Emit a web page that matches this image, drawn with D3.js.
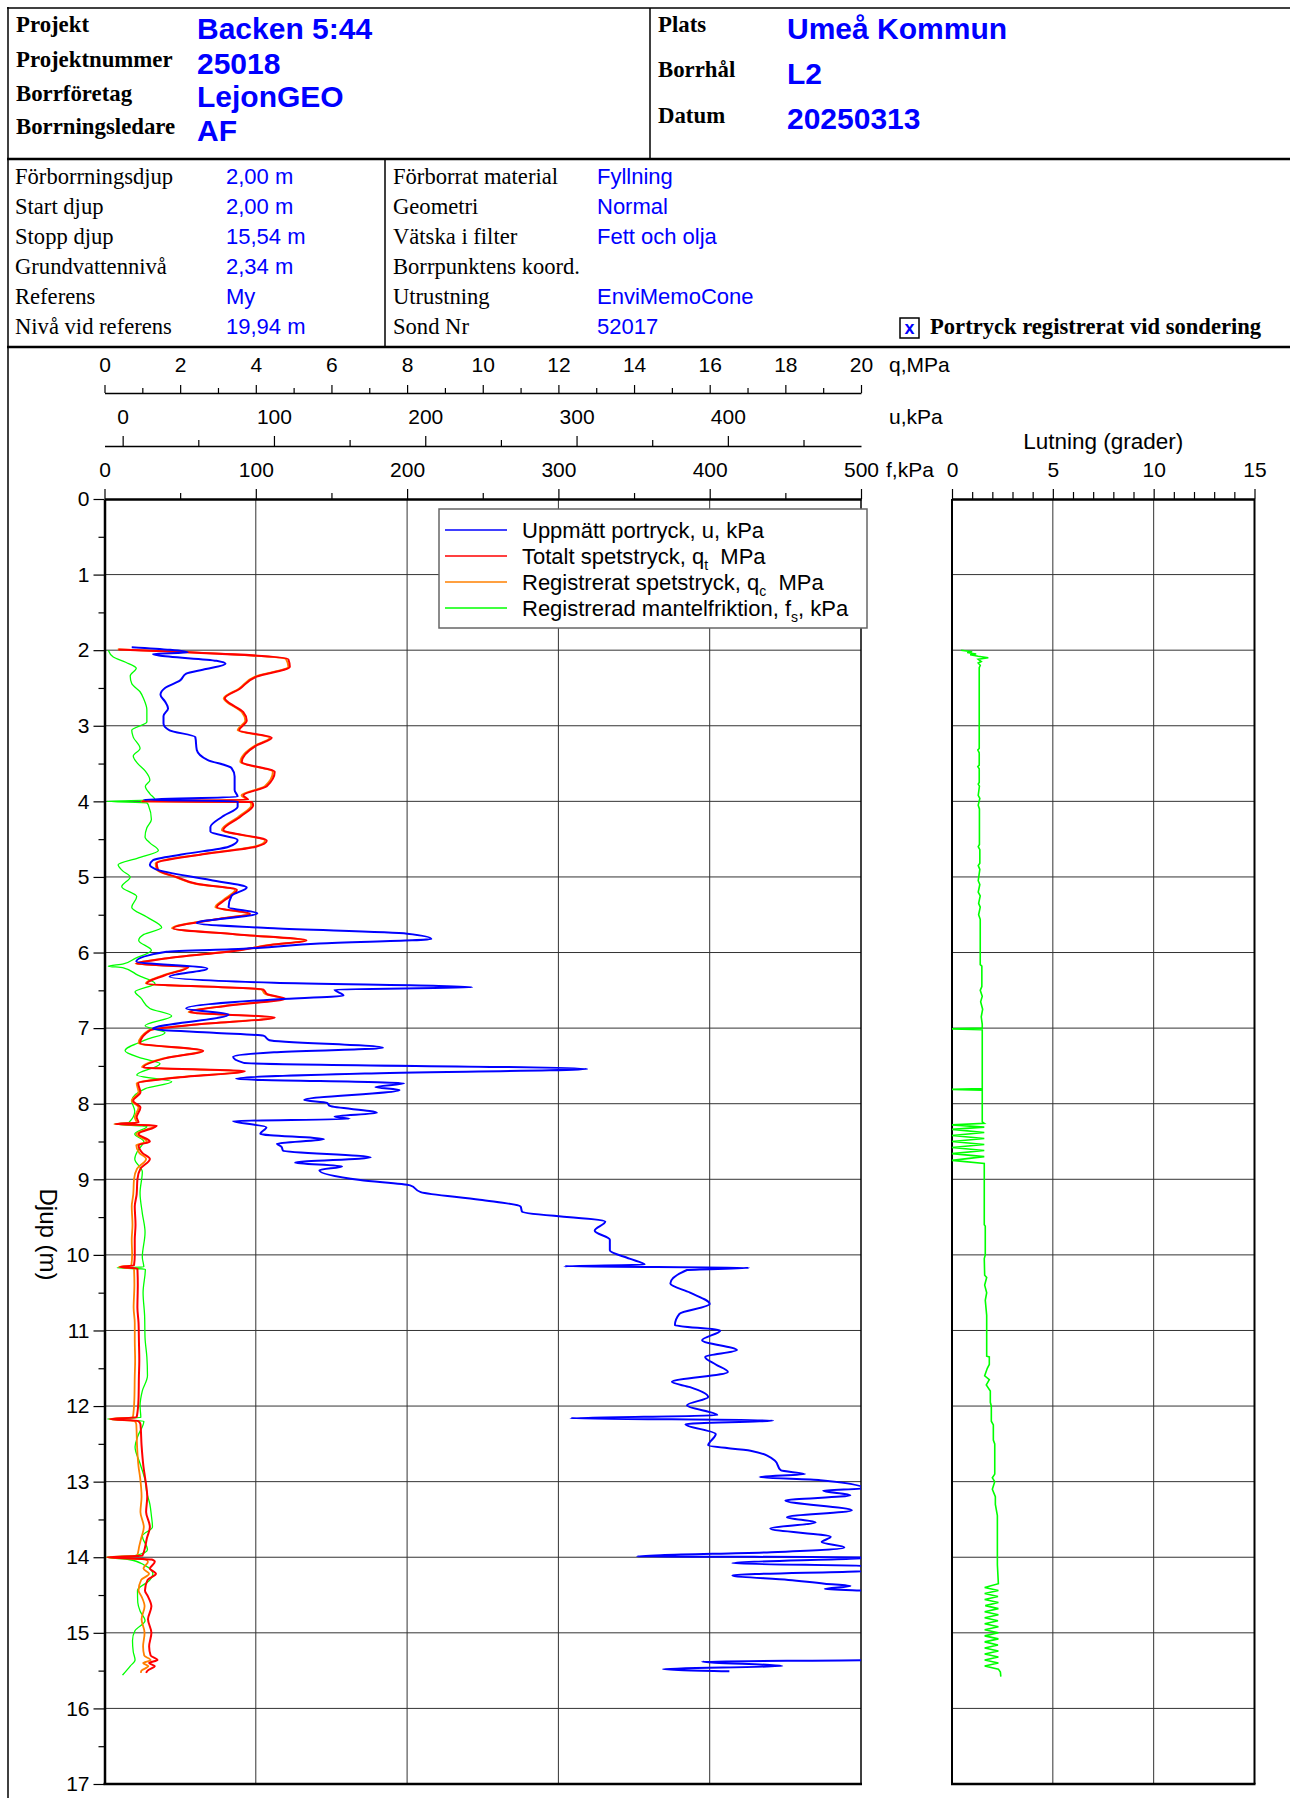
<!DOCTYPE html>
<html><head><meta charset="utf-8">
<script src="https://cdn.jsdelivr.net/npm/d3@7"></script>
<style>body{margin:0;background:#fff}svg{display:block}</style>
</head><body>
<svg id="c" width="1290" height="1798"></svg>
<script>
// ---------------- DATA ----------------
const headerLeftLabels = ["Projekt","Projektnummer","Borrföretag","Borrningsledare"];
const headerLeftValues = ["Backen 5:44","25018","LejonGEO","AF"];
const headerRightLabels = ["Plats","Borrhål","Datum"];
const headerRightValues = ["Umeå Kommun","L2","20250313"];
const infoLeftLabels = ["Förborrningsdjup","Start djup","Stopp djup","Grundvattennivå","Referens","Nivå vid referens"];
const infoLeftValues = ["2,00 m","2,00 m","15,54 m","2,34 m","My","19,94 m"];
const infoMidLabels = ["Förborrat material","Geometri","Vätska i filter","Borrpunktens koord.","Utrustning","Sond Nr"];
const infoMidValues = ["Fyllning","Normal","Fett och olja","","EnviMemoCone","52017"];

const qTicks = [0,2,4,6,8,10,12,14,16,18,20];
const uTicks = [0,100,200,300,400];
const fTicks = [0,100,200,300,400,500];
const lutTicks = [0,5,10,15];
const depthTicks = d3.range(0,18);

// total cone resistance q_t (MPa) and registered q_c (MPa), same depths
const qDepth = [1.99,2.12,2.22,2.35,2.51,2.64,2.68,2.82,2.93,3.06,
 3.16,3.26,3.48,3.61,3.80,3.92,3.98,4.00,4.01,4.05,
 4.20,4.38,4.52,4.60,4.70,4.82,4.91,5.00,5.09,5.17,
 5.30,5.40,5.49,5.55,5.68,5.76,5.84,5.90,5.97,6.08,
 6.15,6.19,6.30,6.41,6.49,6.55,6.61,6.70,6.79,6.86,
 6.95,7.03,7.20,7.30,7.40,7.52,7.57,7.65,7.73,7.85,
 7.96,8.05,8.18,8.25,8.27,8.29,8.40,8.50,8.55,8.65,
 8.73,8.86,9.00,9.20,9.36,9.60,9.80,10.00,10.14,10.16,
 10.18,10.40,10.70,10.90,11.13,11.40,11.60,11.90,12.15,12.17,
 12.20,12.24,12.52,12.80,12.94,13.20,13.40,13.60,13.75,13.85,
 13.98,14.00,14.03,14.06,14.15,14.22,14.30,14.44,14.52,14.65,
 14.82,15.00,15.18,15.30,15.36,15.40,15.44,15.50,15.53];
const qtValue = [0.37,4.86,4.90,4.02,3.58,3.18,3.25,3.67,3.76,3.56,
 4.42,4.02,3.63,4.50,4.29,3.67,3.80,1.00,3.90,3.93,
 3.60,3.14,4.29,4.00,2.60,1.38,1.42,1.90,2.44,3.50,
 3.20,2.97,3.85,3.10,1.82,3.50,5.34,4.40,3.58,1.60,
 0.85,2.22,1.60,1.12,4.20,4.30,4.77,3.30,2.26,4.50,
 2.50,1.20,0.94,2.61,1.60,1.03,3.71,2.00,0.89,0.95,
 0.76,0.95,0.85,0.90,0.28,1.38,0.90,1.20,0.90,1.00,
 1.20,0.95,0.87,0.85,0.80,0.82,0.80,0.80,0.78,0.41,
 0.87,0.88,0.87,0.90,0.91,0.92,0.91,0.90,0.85,0.15,
 0.90,0.95,0.98,1.03,1.07,1.13,1.10,1.20,1.12,1.08,
 1.00,0.08,1.25,1.33,1.20,1.36,1.14,1.07,1.15,1.24,
 1.15,1.24,1.18,1.22,1.40,1.18,1.33,1.14,1.10];
const qcValue = [0.35,4.80,4.86,3.98,3.55,3.15,3.22,3.63,3.72,3.52,
 4.37,3.98,3.59,4.45,4.24,3.62,3.75,0.98,3.85,3.88,
 3.55,3.10,4.24,3.95,2.55,1.35,1.39,1.86,2.40,3.45,
 3.15,2.93,3.80,3.05,1.78,3.45,5.28,4.35,3.53,1.56,
 0.82,2.18,1.56,1.09,4.15,4.25,4.71,3.25,2.22,4.45,
 2.45,1.16,0.90,2.56,1.55,0.99,3.65,1.95,0.85,0.90,
 0.72,0.90,0.80,0.85,0.25,1.32,0.84,1.12,0.84,0.92,
 1.10,0.86,0.78,0.76,0.72,0.74,0.72,0.73,0.71,0.38,
 0.78,0.79,0.77,0.80,0.80,0.81,0.80,0.79,0.75,0.13,
 0.80,0.84,0.86,0.90,0.94,0.98,0.95,1.04,0.97,0.92,
 0.86,0.06,1.08,1.15,1.03,1.18,0.97,0.90,0.98,1.06,
 0.98,1.06,1.02,1.05,1.22,1.02,1.16,0.98,0.96];

// measured pore pressure u (kPa)
const uDepth = [1.96,2.03,2.05,2.07,2.14,2.18,2.25,2.31,2.40,2.50,
 2.59,2.68,2.77,2.87,2.97,3.06,3.15,3.32,3.45,3.56,
 3.67,3.85,3.94,3.98,4.00,4.07,4.20,4.34,4.40,4.51,
 4.60,4.70,4.78,4.84,4.90,5.04,5.14,5.25,5.40,5.48,
 5.61,5.68,5.75,5.82,5.88,5.95,5.99,6.12,6.21,6.32,
 6.40,6.46,6.49,6.57,6.62,6.74,6.82,7.01,7.06,7.10,
 7.16,7.26,7.32,7.38,7.46,7.54,7.60,7.67,7.73,7.78,
 7.82,7.95,7.99,8.03,8.12,8.17,8.20,8.23,8.31,8.40,
 8.47,8.53,8.57,8.62,8.71,8.78,8.83,8.88,9.01,9.08,
 9.17,9.27,9.36,9.43,9.56,9.68,9.80,9.94,10.05,10.13,
 10.15,10.17,10.20,10.38,10.50,10.65,10.78,10.93,11.00,11.13,
 11.26,11.35,11.45,11.55,11.68,11.75,11.88,11.99,12.12,12.16,
 12.19,12.24,12.37,12.52,12.59,12.72,12.85,12.90,12.94,12.98,
 13.09,13.12,13.18,13.25,13.38,13.47,13.54,13.62,13.73,13.80,
 13.87,13.93,13.99,14.00,14.08,14.12,14.17,14.24,14.30,14.35,
 14.38,14.42,14.45,14.60,15.00,15.30,15.36,15.38,15.44,15.48,
 15.51];
const uValue = [6,43,20,24,62,68,55,42,38,28,
 25,28,30,27,27,31,48,49,56,72,
 74,74,76,14,76,76,66,58,58,76,
 70,40,20,18,22,58,82,72,70,89,
 49,100,188,204,130,80,29,9,56,31,
 100,231,140,146,100,42,70,20,60,93,
 97,172,100,73,80,307,160,75,186,167,
 183,120,135,137,168,140,150,73,95,91,
 133,102,105,106,164,114,145,130,157,190,
 197,236,263,264,319,312,322,322,335,345,
 292,414,373,362,375,388,368,365,395,383,
 406,385,392,400,363,375,387,373,393,296,
 430,372,392,387,415,431,435,451,421,461,
 490,463,481,438,482,439,458,428,468,462,
 477,433,340,495,403,500,500,403,440,464,
 481,464,500,530,540,520,495,383,436,357,
 401];

// sleeve friction f_s (kPa)
const fDepth = [2.00,2.09,2.16,2.24,2.34,2.44,2.55,2.65,2.79,2.95,
 3.06,3.15,3.30,3.40,3.50,3.60,3.72,3.80,3.90,3.98,
 4.00,4.02,4.05,4.24,4.35,4.47,4.55,4.65,4.75,4.84,
 4.92,5.00,5.13,5.26,5.40,5.53,5.67,5.76,5.84,5.97,
 6.08,6.15,6.18,6.20,6.30,6.41,6.52,6.60,6.74,6.84,
 6.97,7.06,7.15,7.30,7.40,7.47,7.62,7.71,7.80,7.96,
 8.10,8.25,8.27,8.30,8.40,8.50,8.62,8.73,8.90,9.18,
 9.45,9.70,10.03,10.16,10.17,10.19,10.50,10.80,11.10,11.35,
 11.60,11.80,12.00,12.15,12.17,12.20,12.40,12.54,12.76,12.98,
 13.15,13.30,13.45,13.60,13.72,13.90,13.98,14.00,14.03,14.10,
 14.22,14.30,14.44,14.60,14.71,14.84,14.97,15.10,15.25,15.36,
 15.44,15.56];
const fValue = [2.5,5.8,14,21,17,18,23.5,26,28,28,
 18,19,23.5,19,22,27,30,27,30,33.4,
 1.5,28,29,31,28,26.8,30,35.6,22,9,
 12,17,11.4,21.3,18,28,37.8,26,22.6,31,
 20,12.5,2.5,12,22,33.4,20.2,24,30,44.4,
 26.8,40,28,13.6,25,36.7,21.3,44.4,27,18,
 20,16,6.9,28,20,26,22,20,25,23.5,
 25,26.8,25,26,8.3,27,25.5,26.5,26.8,28,
 28.4,25,23.5,24,2,26,22,20.2,23.5,26.8,
 28,30,31,31.7,25,28.4,20,1.5,16,26,
 32,30,21.8,22,23.5,26.8,20.2,18.5,19,20.2,
 17,11.9];

// inclination (degrees)
const incDepth = [2.00,2.02,2.03,2.05,2.06,2.08,2.10,2.12,2.15,2.17,
 2.20,2.23,3.30,3.32,3.36,3.52,3.54,3.57,3.75,3.77,
 3.80,3.92,3.96,4.05,4.10,4.57,4.60,4.64,4.82,4.85,
 4.90,5.05,5.10,5.20,5.25,5.35,5.40,5.50,5.56,6.16,
 6.18,6.45,6.50,6.58,6.65,6.75,6.85,6.95,7.00,7.01,
 7.02,7.80,7.81,7.82,8.24,8.26,8.28,8.31,8.34,8.38,
 8.42,8.46,8.50,8.54,8.58,8.62,8.66,8.70,8.75,8.79,
 9.60,9.62,10.00,10.05,10.27,10.30,10.40,10.50,10.60,10.80,
 11.34,11.35,11.45,11.50,11.60,11.65,11.72,11.80,11.95,12.00,
 12.20,12.25,12.45,12.50,12.90,12.95,13.00,13.10,13.20,13.30,
 13.45,14.10,14.35,14.40,14.44,14.48,14.52,14.56,14.60,14.64,
 14.68,14.72,14.76,14.80,14.84,14.88,14.92,14.96,15.00,15.04,
 15.08,15.12,15.16,15.20,15.24,15.28,15.32,15.36,15.40,15.44,
 15.48,15.52,15.58];
const incValue = [0.45,1.00,0.75,1.20,0.90,1.30,1.80,1.30,1.45,1.30,
 1.40,1.35,1.35,1.28,1.35,1.35,1.28,1.35,1.35,1.30,
 1.36,1.30,1.38,1.30,1.36,1.36,1.30,1.38,1.38,1.30,
 1.38,1.30,1.38,1.30,1.40,1.32,1.40,1.32,1.40,1.40,
 1.48,1.48,1.40,1.50,1.42,1.52,1.45,1.50,1.50,0.00,
 1.50,1.50,0.00,1.50,1.50,1.60,0.00,1.60,0.00,1.60,
 0.00,1.60,0.00,1.60,0.00,1.60,0.00,1.60,0.00,1.60,
 1.60,1.65,1.65,1.60,1.62,1.72,1.62,1.72,1.65,1.72,
 1.72,1.85,1.85,1.75,1.62,1.85,1.70,1.90,1.90,1.95,
 1.95,2.05,2.05,2.12,2.12,2.00,2.12,2.00,2.15,2.15,
 2.25,2.25,2.30,1.62,2.30,1.62,2.28,1.62,2.30,1.65,
 2.30,1.62,2.30,1.62,2.28,1.62,2.30,1.62,2.30,1.62,
 2.30,1.62,2.28,1.62,2.30,1.62,2.30,1.62,2.30,1.62,
 2.30,2.40,2.42];

const legendItems = [
  {color:"#0000ff", parts:[["Uppmätt portryck, u, kPa",""]]},
  {color:"#ff0000", parts:[["Totalt spetstryck, q",""],["t","sub"],["\u00a0\u00a0MPa",""]]},
  {color:"#ff8000", parts:[["Registrerat spetstryck, q",""],["c","sub"],["\u00a0\u00a0MPa",""]]},
  {color:"#00ff00", parts:[["Registrerad mantelfriktion, f",""],["s","sub"],[", kPa",""]]}
];

// ---------------- DRAW ----------------
const svg = d3.select("#c");
const SERIF = "'Liberation Serif','Times New Roman',serif";
const SANS = "'Liberation Sans',Arial,sans-serif";
const BLUE = "#0000ff";

function hline(x1,x2,y,w){svg.append("line").attr("x1",x1).attr("x2",x2).attr("y1",y).attr("y2",y).attr("stroke","#000").attr("stroke-width",w);}
function vline(x,y1,y2,w){svg.append("line").attr("x1",x).attr("x2",x).attr("y1",y1).attr("y2",y2).attr("stroke","#000").attr("stroke-width",w);}
hline(7,1290,8,1.5);
vline(8,7,1798,1.5);
hline(7,1290,159,2.5);
hline(7,1290,347,2.5);
vline(650,8,159,1.5);
vline(385,159,347,1.5);

// header
const hlY=[32,67,101,134], hvY=[39,74,107,141];
headerLeftLabels.forEach((t,i)=>svg.append("text").attr("x",16).attr("y",hlY[i]).attr("font-family",SERIF).attr("font-weight","bold").attr("font-size",22.8).text(t));
headerLeftValues.forEach((t,i)=>svg.append("text").attr("x",197).attr("y",hvY[i]).attr("font-family",SANS).attr("font-weight","bold").attr("font-size",30).attr("fill",BLUE).text(t));
const hrlY=[32,77,123], hrvY=[39,84,129];
headerRightLabels.forEach((t,i)=>svg.append("text").attr("x",658).attr("y",hrlY[i]).attr("font-family",SERIF).attr("font-weight","bold").attr("font-size",22.8).text(t));
headerRightValues.forEach((t,i)=>svg.append("text").attr("x",787).attr("y",hrvY[i]).attr("font-family",SANS).attr("font-weight","bold").attr("font-size",30).attr("fill",BLUE).text(t));

// info
const infoY=[184,214,244,274,304,334];
infoLeftLabels.forEach((t,i)=>svg.append("text").attr("x",15).attr("y",infoY[i]).attr("font-family",SERIF).attr("font-size",22.6).text(t));
infoLeftValues.forEach((t,i)=>svg.append("text").attr("x",226).attr("y",infoY[i]).attr("font-family",SANS).attr("font-size",22).attr("fill",BLUE).text(t));
infoMidLabels.forEach((t,i)=>svg.append("text").attr("x",393).attr("y",infoY[i]).attr("font-family",SERIF).attr("font-size",22.6).text(t));
infoMidValues.forEach((t,i)=>svg.append("text").attr("x",597).attr("y",infoY[i]).attr("font-family",SANS).attr("font-size",22).attr("fill",BLUE).text(t));
svg.append("rect").attr("x",900).attr("y",318).attr("width",19).attr("height",20).attr("fill","none").attr("stroke","#000").attr("stroke-width",1.5);
svg.append("text").attr("x",909.5).attr("y",334).attr("text-anchor","middle").attr("font-family",SANS).attr("font-weight","bold").attr("font-size",18).attr("fill",BLUE).text("x");
svg.append("text").attr("x",930).attr("y",334).attr("font-family",SERIF).attr("font-weight","bold").attr("font-size",22.6).text("Portryck registrerat vid sondering");

// scales
const X0=104.5, X1=861, Y0=499, Y1=1784;
const yD = d3.scaleLinear().domain([0,17]).range([Y0,Y1]);
const xQ = d3.scaleLinear().domain([0,20]).range([X0,X1]);
const xU = d3.scaleLinear().domain([-12,488]).range([X0,X1]);
const xF = d3.scaleLinear().domain([0,500]).range([X0,X1]);
const L0=952, L1=1254.5;
const xL = d3.scaleLinear().domain([0,15]).range([L0,L1]);

// grids
const g = svg.append("g");
g.selectAll(".vg").data([100,200,300,400]).join("line")
  .attr("x1",d=>xF(d)).attr("x2",d=>xF(d)).attr("y1",Y0).attr("y2",Y1).attr("stroke","#333").attr("stroke-width",1);
g.selectAll(".hg").data(d3.range(1,17)).join("line")
  .attr("x1",X0).attr("x2",X1).attr("y1",d=>yD(d)).attr("y2",d=>yD(d)).attr("stroke","#333").attr("stroke-width",1);
g.selectAll(".vg2").data([5,10]).join("line")
  .attr("x1",d=>xL(d)).attr("x2",d=>xL(d)).attr("y1",Y0).attr("y2",Y1).attr("stroke","#333").attr("stroke-width",1);
g.selectAll(".hg2").data(d3.range(1,17)).join("line")
  .attr("x1",L0).attr("x2",L1).attr("y1",d=>yD(d)).attr("y2",d=>yD(d)).attr("stroke","#333").attr("stroke-width",1);

const AX_FS = 21;
function styleAxis(sel,domW){
  sel.attr("font-family",SANS).attr("font-size",AX_FS);
  sel.selectAll("text").attr("fill","#000");
  sel.selectAll(".tick line").attr("stroke","#000").attr("stroke-width",1.2);
  sel.select(".domain").attr("stroke","#000").attr("stroke-width",domW);
}
function topAxis(scale,y,major,minor,majLen,minLen,pad,domW){
  const a = svg.append("g").attr("transform",`translate(0,${y})`)
    .call(d3.axisTop(scale).tickValues(major).tickSize(majLen).tickSizeOuter(0).tickPadding(pad).tickFormat(d3.format("d")));
  styleAxis(a,domW);
  const m = svg.append("g").attr("transform",`translate(0,${y})`)
    .call(d3.axisTop(scale).tickValues(minor).tickSize(minLen).tickSizeOuter(0).tickFormat(""));
  m.select(".domain").remove();
  m.selectAll(".tick line").attr("stroke","#000").attr("stroke-width",1.2);
}
topAxis(xQ,393,qTicks,d3.range(1,20,2),8,5,13,1.5);
topAxis(xU,446,uTicks,[50,150,250,350,450],10,6,12,1.5);
topAxis(xF,Y0,fTicks,[50,150,250,350,450],10,6,12,2.5);
topAxis(xL,Y0,lutTicks,[1,2,3,4,6,7,8,9,11,12,13,14],10,7,12,2.5);

function lbl(x,y,t,anchor,fs){svg.append("text").attr("x",x).attr("y",y).attr("font-family",SANS).attr("font-size",fs||AX_FS).attr("text-anchor",anchor||"start").text(t);}
lbl(889,372,"q,MPa");
lbl(889,424,"u,kPa");
lbl(886,477,"f,kPa");
lbl((L0+L1)/2,449,"Lutning (grader)","middle",22.5);

// depth axis
const da = svg.append("g").attr("transform",`translate(${X0},0)`)
  .call(d3.axisLeft(yD).tickValues(depthTicks).tickSize(11).tickSizeOuter(0).tickPadding(4));
styleAxis(da,2.5);
const dm = svg.append("g").attr("transform",`translate(${X0},0)`)
  .call(d3.axisLeft(yD).tickValues(d3.range(0.5,17,1)).tickSize(6).tickSizeOuter(0).tickFormat(""));
dm.select(".domain").remove();
dm.selectAll(".tick line").attr("stroke","#000").attr("stroke-width",1.2);
svg.append("text").attr("transform",`translate(40,${yD(9.73)}) rotate(90)`).attr("text-anchor","middle")
  .attr("font-family",SANS).attr("font-size",24).text("Djup (m)");

// plot frames
vline(X1,Y0,Y1,1.5);
hline(X0-1,X1+1,Y1,2.5);
vline(L0,Y0,Y1,2);
vline(L1,Y0,Y1,2);
hline(L0-1,L1+1,Y1,2.5);

// clip
svg.append("clipPath").attr("id","clipL").append("rect").attr("x",X0).attr("y",Y0).attr("width",X1-X0).attr("height",Y1-Y0);
const plot = svg.append("g").attr("clip-path","url(#clipL)");

function series(depths,values,xs,color,w){
  const pts = d3.zip(depths,values);
  plot.append("path").datum(pts)
    .attr("d",d3.line().curve(d3.curveMonotoneY).x(d=>xs(d[1])).y(d=>yD(d[0])))
    .attr("fill","none").attr("stroke",color).attr("stroke-width",w).attr("stroke-linejoin","round");
}
series(fDepth,fValue,xF,"#00ff00",1.3);
series(qDepth,qcValue,xQ,"#ff8000",1.8);
series(qDepth,qtValue,xQ,"#ff0000",2);
series(uDepth,uValue,xU,"#0000ff",2);

svg.append("path").datum(d3.zip(incDepth,incValue))
  .attr("d",d3.line().x(d=>xL(d[1])).y(d=>yD(d[0])))
  .attr("fill","none").attr("stroke","#00ff00").attr("stroke-width",1.6);

// legend
const lg = svg.append("g");
lg.append("rect").attr("x",439).attr("y",509).attr("width",428).attr("height",119)
  .attr("fill","#fff").attr("stroke","#666").attr("stroke-width",1.5);
const legY=[531,557,583,609];
legendItems.forEach((it,i)=>{
  lg.append("line").attr("x1",445).attr("x2",507).attr("y1",legY[i]-1).attr("y2",legY[i]-1).attr("stroke",it.color).attr("stroke-width",1.5);
  const t = lg.append("text").attr("x",522).attr("y",legY[i]+7).attr("font-family",SANS).attr("font-size",22);
  let shifted=false;
  it.parts.forEach(p=>{
    const ts=t.append("tspan").text(p[0]);
    if(p[1]==="sub"){ts.attr("font-size",14).attr("dy",6);shifted=true;}
    else if(shifted){ts.attr("dy",-6);shifted=false;}
  });
});
</script>
</body></html>
